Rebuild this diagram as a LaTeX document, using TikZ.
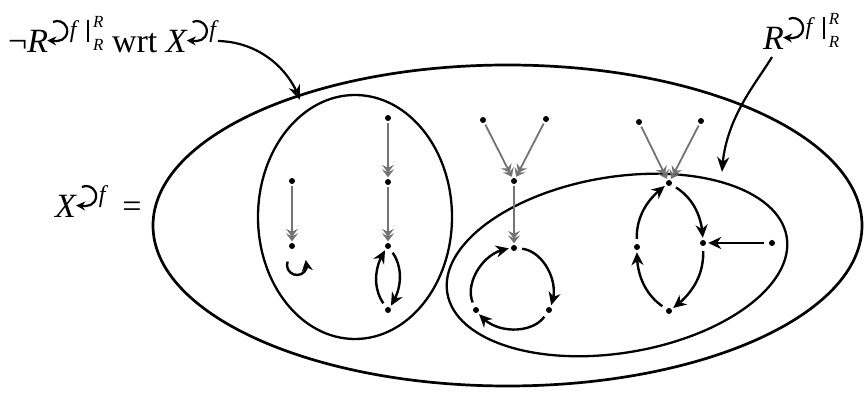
\documentclass[tikz,border=0pt]{standalone}
\usepackage{fontspec}
\setmainfont{Liberation Serif}
\usetikzlibrary{arrows.meta,bending}
\newcommand{\cyc}{\kern-2pt\tikz[baseline=0pt,x=1pt,y=1pt]\draw[line width=2.2pt,-{Stealth[length=9pt,width=9pt]}] (0,22) ++(115:10) arc[start angle=115,end angle=-90,radius=10] -- ++(-10,0.5);}
\newcommand{\fsup}{\kern1pt\raisebox{15pt}{\fontsize{24}{24}\selectfont\textit{f}}}
\newcommand{\restr}{\kern8pt\rule[11pt]{1.8pt}{22pt}\kern4pt\rlap{\raisebox{25pt}{\fontsize{17}{17}\selectfont\textit{R}}}\raisebox{2pt}{\fontsize{17}{17}\selectfont\textit{R}}}
\begin{document}
\begin{tikzpicture}[x=1pt,y=1pt,
  dot/.style={circle,fill=black,inner sep=0pt,minimum size=6pt},
  garrow/.style={draw=black!55,line width=1.8pt,-{Stealth[length=8pt,width=12pt,inset=3pt,sep=-3.5pt]Stealth[length=8pt,width=12pt,inset=3pt]},shorten <=2pt,shorten >=1.5pt},
  barrow/.style={draw=black,line width=2.4pt,-{Stealth[length=13pt,width=12pt]},shorten <=5pt,shorten >=2pt},
  larrow/.style={draw=black,line width=2.2pt,-{Stealth[length=15pt,width=12pt,fill=black!70]}},
  lbl/.style={inner sep=0pt,anchor=base west,font=\fontsize{34}{40}\selectfont},
  set/.style={draw=black,line width=2.3pt},
]
\useasboundingbox (0,0) rectangle (865,393);
% sets
\draw[set,line width=2.7pt] (507.5,167.5) ellipse[x radius=354.5,y radius=160.5];
\draw[set] (355,176) ellipse[x radius=97,y radius=122];
\draw[set,rotate around={9.4:(617,128)}] (617,128) ellipse[x radius=172,y radius=88];
% labels
\node[lbl] (lab1) at (8,340) {¬\textit{R}\cyc\fsup\restr\ wrt \textit{X}\cyc\fsup};
\node[lbl] (lab2) at (763,343) {\textit{R}\cyc\fsup\restr};
\node[lbl] (lab3) at (55,175) {\textit{X}\cyc\fsup\kern14pt=};
\coordinate (l1s) at (218,352);
\coordinate (l1e) at (300,293);
\coordinate (l2s) at (772,336);
\coordinate (l2e) at (722,221);
\draw[larrow] (l1s) .. controls (260,351) and (290,323) .. (l1e);
\draw[larrow] (l2s) .. controls (755,308) and (724,273) .. (l2e);
% dots
\node[dot] (a1) at (292,212) {};
\node[dot] (a2) at (292,147) {};
\node[dot] (b1) at (388,275) {};
\node[dot] (b2) at (388,211) {};
\node[dot] (b3) at (388,147) {};
\node[dot] (b4) at (388,83) {};
\node[dot] (c1) at (483,273) {};
\node[dot] (c2) at (546,274) {};
\node[dot] (c3) at (514,212) {};
\node[dot] (c4) at (514,145) {};
\node[dot] (c5) at (549,83) {};
\node[dot] (c6) at (476,83) {};
\node[dot] (d1) at (639,271) {};
\node[dot] (d2) at (701,272) {};
\node[dot] (d3) at (669,210) {};
\node[dot] (d4) at (703,150) {};
\node[dot] (d5) at (637,146) {};
\node[dot] (d6) at (669,82) {};
\node[dot] (d7) at (772,150) {};
% grey arrows
\draw[garrow] (a1) -- (a2);
\draw[garrow] (b1) -- (b2);
\draw[garrow] (b2) -- (b3);
\draw[garrow] (c1) -- (c3);
\draw[garrow] (c2) -- (c3);
\draw[garrow] (c3) -- (c4);
\draw[garrow] (d1) -- (d3);
\draw[garrow] (d2) -- (d3);
% black arrows
\draw[barrow,shorten <=0pt,shorten >=0pt,-{Stealth[length=11pt,width=11pt]}] ([shift={(5,-19)}]a2.center) ++(160:10) arc[start angle=160,end angle=390,radius=10];
\draw[barrow] (b4) to[bend left=35] (b3);
\draw[barrow] (b3) to[bend left=35] (b4);
\draw[barrow] (c4) to[bend left=55] (c5);
\draw[barrow] (c5) to[bend left=55] (c6);
\draw[barrow] (c6) to[bend left=55] (c4);
\draw[barrow] (d5) to[bend left=28] (d3);
\draw[barrow] (d3) to[bend left=28] (d4);
\draw[barrow] (d4) to[bend left=28] (d6);
\draw[barrow] (d6) to[bend left=28] (d5);
\draw[barrow] (d7) -- (d4);
\end{tikzpicture}
\end{document}
